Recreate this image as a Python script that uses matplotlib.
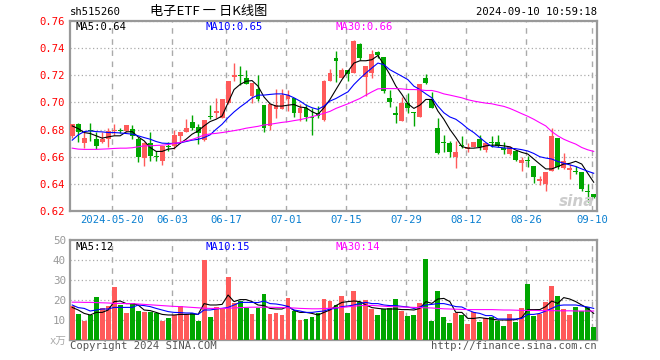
import matplotlib
matplotlib.use("Agg")
import matplotlib.pyplot as plt
import numpy as np

# daily candles, sh515260, 2024-05-09 .. 2024-09-10
opens = [0.675, 0.684, 0.670, 0.6795, 0.6727, 0.671, 0.6732, 0.679, 0.6795, 0.679, 0.6807,
         0.6727, 0.6588, 0.6698, 0.6602, 0.657, 0.6672, 0.668, 0.6749, 0.678, 0.6859, 0.682,
         0.6722, 0.6895, 0.6922, 0.6888, 0.6998, 0.7185, 0.7205, 0.7178, 0.7044, 0.7102, 0.6981,
         0.6829, 0.6951, 0.6951, 0.7022, 0.7034, 0.6924, 0.6956, 0.6895, 0.6924, 0.6873, 0.7156,
         0.7329, 0.7178, 0.7241, 0.7217, 0.7429, 0.7188, 0.7217, 0.7371, 0.7332, 0.7034, 0.6924,
         0.6863, 0.6998, 0.6926, 0.6893, 0.718, 0.7022, 0.6815, 0.6702, 0.6698, 0.6595, 0.6685,
         0.6654, 0.6668, 0.6727, 0.6649, 0.6707, 0.6705, 0.6663, 0.662, 0.6644, 0.6551, 0.6573,
         0.6534, 0.6424, 0.640, 0.6493, 0.6737, 0.6517, 0.6502, 0.6495, 0.6485, 0.6340, 0.6327]
highs = [0.684, 0.685, 0.678, 0.6845, 0.678, 0.678, 0.6815, 0.6844, 0.6815, 0.6837, 0.6834,
         0.6746, 0.6705, 0.678, 0.6644, 0.668, 0.6712, 0.6795, 0.6783, 0.6876, 0.6907, 0.6844,
         0.6868, 0.698, 0.7034, 0.7022, 0.7156, 0.729, 0.7266, 0.724, 0.7141, 0.7205, 0.6981,
         0.6985, 0.7102, 0.7102, 0.709, 0.7034, 0.6985, 0.6985, 0.6956, 0.6973, 0.7163, 0.7246,
         0.7378, 0.7256, 0.7241, 0.7461, 0.7437, 0.7266, 0.7388, 0.738, 0.7332, 0.7093, 0.6973,
         0.7039, 0.7071, 0.6926, 0.7137, 0.7208, 0.7078, 0.6888, 0.6759, 0.6717, 0.6717, 0.6754,
         0.6698, 0.6712, 0.6761, 0.6698, 0.6754, 0.6761, 0.6705, 0.668, 0.6644, 0.6595, 0.6607,
         0.6534, 0.6461, 0.6485, 0.681, 0.6737, 0.6624, 0.6546, 0.6534, 0.6485, 0.640, 0.6327]
lows = [0.674, 0.6705, 0.6665, 0.6715, 0.6656, 0.670, 0.6673, 0.676, 0.6775, 0.678, 0.673,
        0.6559, 0.653, 0.657, 0.6566, 0.654, 0.664, 0.666, 0.6712, 0.678, 0.680, 0.6693,
        0.6717, 0.688, 0.6888, 0.6888, 0.699, 0.7156, 0.7132, 0.7134, 0.6995, 0.701, 0.678,
        0.680, 0.6888, 0.6951, 0.6936, 0.6893, 0.6863, 0.6863, 0.6761, 0.6888, 0.686, 0.7156,
        0.7153, 0.7178, 0.7156, 0.7217, 0.7315, 0.7051, 0.7178, 0.7329, 0.7071, 0.6966, 0.6851,
        0.6863, 0.6924, 0.6827, 0.6893, 0.7134, 0.6956, 0.6619, 0.6632, 0.660, 0.6517, 0.6663,
        0.6632, 0.6668, 0.6649, 0.6632, 0.6668, 0.6668, 0.662, 0.6615, 0.6566, 0.6498, 0.6522,
        0.6405, 0.6395, 0.6346, 0.6493, 0.651, 0.651, 0.6437, 0.6473, 0.6351, 0.6266, 0.6298]
closes = [0.684, 0.678, 0.6735, 0.679, 0.6678, 0.6727, 0.679, 0.680, 0.6788, 0.6837, 0.6754,
          0.6595, 0.6703, 0.6607, 0.6598, 0.668, 0.6668, 0.6759, 0.6783, 0.6815, 0.6815, 0.6778,
          0.6868, 0.689, 0.6937, 0.7022, 0.7156, 0.720, 0.7195, 0.7134, 0.7141, 0.7022, 0.6815,
          0.6985, 0.6981, 0.7054, 0.7054, 0.6924, 0.696, 0.6893, 0.6888, 0.690, 0.7158, 0.7217,
          0.7305, 0.7237, 0.721, 0.7454, 0.7327, 0.7266, 0.7356, 0.7346, 0.7083, 0.7005, 0.6907,
          0.6998, 0.6956, 0.6922, 0.7137, 0.714, 0.6956, 0.6624, 0.6698, 0.6632, 0.6632, 0.6678,
          0.6668, 0.6712, 0.6668, 0.6698, 0.6702, 0.668, 0.6649, 0.6673, 0.6576, 0.6576, 0.6569,
          0.6454, 0.6437, 0.6485, 0.6754, 0.6522, 0.6571, 0.6517, 0.649, 0.6363, 0.6338, 0.630]

ma5 = [0.6827, 0.6807, 0.6778, 0.6771, 0.6754, 0.6737, 0.6746, 0.6754, 0.6754, 0.6783, 0.6785,
       0.6746, 0.6717, 0.6668, 0.6639, 0.6639, 0.6656, 0.6661, 0.6698, 0.6729, 0.6766, 0.679,
       0.6827, 0.6859, 0.6876, 0.690, 0.6998, 0.7095, 0.7132, 0.7156, 0.7161, 0.712, 0.704,
       0.699, 0.6973, 0.6973, 0.698, 0.6985, 0.6966, 0.6961, 0.6932, 0.6912, 0.6961, 0.7022,
       0.7095, 0.7168, 0.7229, 0.729, 0.7307, 0.7307, 0.7315, 0.7346, 0.7278, 0.7205, 0.712,
       0.7059, 0.699, 0.6956, 0.698, 0.7022, 0.7022, 0.6937, 0.6876, 0.6802, 0.6741, 0.6675,
       0.6663, 0.6663, 0.6668, 0.668, 0.6685, 0.6685, 0.668, 0.6673, 0.6649, 0.6632, 0.662,
       0.6583, 0.6546, 0.651, 0.651, 0.6527, 0.6546, 0.6551, 0.6566, 0.6546, 0.6478, 0.6412]
ma10 = [0.6722, 0.6761, 0.6785, 0.679, 0.6785, 0.6783, 0.6778, 0.6778, 0.6775, 0.6771, 0.6766,
        0.6754, 0.6741, 0.6729, 0.6712, 0.670, 0.6698, 0.6698, 0.6702, 0.6712, 0.6722, 0.6728,
        0.6741, 0.6761, 0.6802, 0.6839, 0.6888, 0.693, 0.6966, 0.6998, 0.7034, 0.7054, 0.7054,
        0.7059, 0.7063, 0.7063, 0.7054, 0.7034, 0.701, 0.698, 0.6961, 0.6949, 0.6973, 0.701,
        0.7029, 0.7054, 0.7078, 0.7132, 0.7176, 0.7217, 0.7254, 0.729, 0.7278, 0.7241, 0.7217,
        0.7193, 0.7168, 0.712, 0.7095, 0.7063, 0.7034, 0.6973, 0.6924, 0.6893, 0.6876, 0.6844,
        0.6807, 0.6778, 0.6741, 0.6705, 0.6675, 0.667, 0.6665, 0.6662, 0.6659, 0.6652, 0.6642,
        0.6624, 0.660, 0.659, 0.6583, 0.6565, 0.6552, 0.654, 0.6528, 0.651, 0.6493, 0.6478]
ma30 = [0.6663, 0.6656, 0.6654, 0.6654, 0.6654, 0.6656, 0.6658, 0.6661, 0.6663, 0.6663, 0.6666,
        0.6673, 0.668, 0.668, 0.6683, 0.6685, 0.669, 0.6698, 0.6705, 0.6717, 0.6727, 0.6742,
        0.6760, 0.6768, 0.6772, 0.6778, 0.6785, 0.6792, 0.680, 0.681, 0.6817, 0.6824, 0.6834,
        0.6839, 0.6846, 0.6853, 0.6858, 0.6866, 0.6873, 0.6883, 0.6895, 0.6907, 0.692, 0.6934,
        0.6956, 0.6973, 0.699, 0.701, 0.7029, 0.7054, 0.7078, 0.710, 0.7102, 0.7102, 0.7102,
        0.710, 0.7095, 0.7095, 0.7093, 0.7088, 0.7088, 0.7078, 0.7063, 0.7054, 0.7044, 0.7034,
        0.702, 0.701, 0.7002, 0.6995, 0.699, 0.698, 0.6971, 0.6956, 0.6937, 0.6917, 0.6898,
        0.6876, 0.6851, 0.6827, 0.6785, 0.6754, 0.6729, 0.671, 0.6693, 0.6668, 0.6651, 0.6639]

# volume, 万手
volumes = [17.2, 12.8, 9.5, 12.5, 21.5, 15.8, 17.2, 26.5, 17.5, 13.5, 18.3, 14.5, 13.8, 13.8,
           13.5, 9.7, 10.8, 12.5, 17, 12.8, 13.3, 9.5, 40, 11.5, 16.5, 15.5, 31.5, 18.7, 19.5,
           16.2, 13, 16.2, 23, 13, 13.5, 12.5, 21, 14.7, 10, 10.3, 11.5, 13.7, 20.5, 19.5,
           17.5, 22.2, 13.7, 24.7, 18.8, 20, 15.5, 12.5, 15.5, 15.8, 20.5, 14.7, 12.2, 12.5,
           18.5, 40.5, 9.7, 24.5, 11.7, 8.7, 13.5, 12.5, 8.2, 14, 9.2, 10.8, 11.5, 9.5, 7.2,
           13.2, 9, 16.2, 28, 12.2, 12.8, 19, 27, 22.2, 15.3, 12.5, 16.7, 14.3, 16.3, 6.5]
vol_ma5 = [16.3, 15, 13.3, 12.5, 13.8, 13.8, 15, 19.2, 19.5, 18.2, 18.2, 17.5, 15, 14.7, 13.8,
           12.8, 12.5, 12.5, 12.8, 12.8, 13, 12.8, 18.2, 17.5, 17.5, 17.8, 22.5, 19.2, 20.2,
           20.2, 19.2, 17.5, 17.2, 15.8, 15.5, 15.5, 16.8, 14.8, 13.8, 13.8, 13.3, 12.5, 13.8,
           15, 17.2, 18.8, 19.2, 19.5, 19.2, 17.5, 16.2, 15.8, 15.5, 15.5, 15.5, 15.2, 15.2,
           15, 15.8, 19.2, 18.3, 20.5, 20.8, 19.2, 13.8, 13.8, 10.8, 10.8, 11.2, 10.8, 10.5,
           10, 10, 10, 10.2, 11.2, 15.2, 15.2, 15.2, 16.7, 19.5, 18.3, 21.2, 20.5, 19.2, 17.5,
           15.8, 13.3]
vol_ma10 = [17.5, 16.2, 15.8, 14.5, 15, 15.5, 15.5, 16.3, 16.3, 16.3, 16.3, 17.5, 17.2, 16.7,
            15.8, 15, 14.2, 13.8, 13.7, 13.5, 13.5, 12.8, 15, 15, 15.5, 15.8, 16.3, 17.5, 18.8,
            18.8, 18.8, 18.7, 19.5, 18.2, 18, 17.5, 16.8, 15, 14.5, 13.8, 13.8, 14.2, 14.5,
            15.5, 15.8, 16.7, 17, 17.5, 18.3, 18.8, 18.2, 18.2, 17.5, 17.2, 17.2, 16.8, 16.5,
            15.8, 16.5, 17.5, 17.8, 18.2, 18.2, 17.5, 16.7, 16.5, 15, 13.8, 13.3, 12.2, 12.2,
            10.5, 10.5, 10.5, 10.5, 10.8, 12.8, 12.8, 13.3, 14.5, 15.8, 17.2, 17.5, 17.5, 17.5,
            17, 16.5, 15.8]
vol_ma30 = [18.9, 18.9, 18.8, 18.8, 18.7, 18.6, 18.5, 18.3, 18.3, 18.2, 18.2, 18.0, 17.8, 17.6,
            17.4, 17.2, 17.0, 16.8, 16.7, 16.5, 16.3, 16.1, 15.9, 15.8, 15.8, 15.8, 15.9, 16.0,
            16.2, 16.3, 16.4, 16.4, 16.4, 16.4, 16.3, 16.2, 16.1, 16.0, 15.8, 15.7, 15.6, 15.6,
            15.7, 15.9, 16.1, 16.3, 16.6, 16.9, 17.2, 17.3, 17.3, 17.1, 16.9, 16.7, 16.6, 16.5,
            16.4, 16.3, 16.2, 16.1, 16.0, 15.8, 15.6, 15.5, 15.4, 15.3, 15.2, 15.2, 15.2, 15.2,
            15.2, 15.1, 15.0, 15.0, 14.9, 14.8, 14.8, 14.8, 14.7, 14.7, 14.7, 14.6, 14.6, 14.6,
            14.5, 14.5, 14.5, 14.5]

# date labels and the candle index they sit on
date_labels = ["2024-05-20", "06-03", "06-17", "07-01", "07-15", "07-29", "08-12", "08-26", "09-10"]
date_index = [7, 17, 26, 36, 46, 56, 66, 76, 87]

price_ticks = [0.62, 0.64, 0.66, 0.68, 0.70, 0.72, 0.74, 0.76]
vol_ticks = [10, 20, 30, 40, 50]

W, H = 660, 360
RED = "#ff5a5a"
GREEN = "#00a600"
GRID = "#aaaaaa"
MONO = ["DejaVu Sans Mono", "Noto Sans CJK SC"]
CJK = ["Noto Sans CJK SC", "DejaVu Sans"]

plt.rcParams["font.family"] = MONO


def px(x, y):
    return x / W, 1 - y / H


def style_axes(ax):
    for s in ax.spines.values():
        s.set_color("#999999")
        s.set_linewidth(1.6)
    ax.tick_params(length=0)
    ax.set_xlim(-0.37, 87.55)
    ax.set_xticks([i - 0.3 for i in date_index])
    ax.grid(axis="x", color=GRID, linestyle=(0, (4, 4)), linewidth=1)
    ax.grid(axis="y", color=GRID, linestyle=(0, (1, 2)), linewidth=0.9)
    ax.set_axisbelow(True)


fig = plt.figure(figsize=(W / 100, H / 100), dpi=100)
ax1 = fig.add_axes([70 / W, 1 - 211 / H, 527 / W, 190 / H])
ax2 = fig.add_axes([70 / W, 1 - 340 / H, 527 / W, 100 / H])

x = np.arange(len(closes))
o = np.array(opens)
c = np.array(closes)
colors = [RED if cc >= oo else GREEN for oo, cc in zip(opens, closes)]

# candles
ax1.vlines(x, lows, highs, colors=colors, linewidth=1, zorder=2)
body = np.maximum(np.abs(c - o), 0.0008)
ax1.bar(x, body, bottom=np.minimum(o, c), width=0.82, color=colors, zorder=3)
ax1.plot(x, ma5, color="black", linewidth=0.8, zorder=4)
ax1.plot(x, ma10, color="#0000ff", linewidth=0.8, zorder=4)
ax1.plot(x, ma30, color="#ff00ff", linewidth=0.8, zorder=4)

style_axes(ax1)
ax1.set_ylim(0.62, 0.76)
ax1.set_yticks(price_ticks)
ax1.set_yticklabels([f"{t:.2f}" for t in price_ticks], color="#ff0000", fontsize=7.6)
ax1.set_xticklabels(date_labels, color="#0a7fd0", fontsize=7.6)
ax1.tick_params(axis="x", pad=3)
ax1.tick_params(axis="y", pad=4)

# volume
ax2.bar(x, volumes, width=0.82, color=colors, zorder=3)
ax2.plot(x, vol_ma5, color="black", linewidth=0.8, zorder=4)
ax2.plot(x, vol_ma10, color="#0000ff", linewidth=0.8, zorder=4)
ax2.plot(x, vol_ma30, color="#ff00ff", linewidth=0.8, zorder=4)

style_axes(ax2)
ax2.set_ylim(0, 50)
ax2.set_yticks(vol_ticks)
ax2.set_yticklabels([str(t) for t in vol_ticks], color="#999999", fontsize=7.8)
ax2.set_xticklabels([])
ax2.tick_params(axis="y", pad=3)

# header
fig.text(*px(70, 12), "sh515260", ha="left", va="center", fontsize=7.6)
fig.text(*px(209, 11), "电子ETF 一 日K线图", ha="center", va="center", fontsize=9.5, family=CJK)
fig.text(*px(597, 12), "2024-09-10 10:59:18", ha="right", va="center", fontsize=7.6)

# moving average legends
fig.text(*px(75, 27), "MA5:0.64", ha="left", va="center", fontsize=7.6, color="black")
fig.text(*px(205, 27), "MA10:0.65", ha="left", va="center", fontsize=7.6, color="#0000ff")
fig.text(*px(335, 27), "MA30:0.66", ha="left", va="center", fontsize=7.6, color="#ff00ff")
fig.text(*px(75, 247), "MA5:12", ha="left", va="center", fontsize=7.6, color="black")
fig.text(*px(205, 247), "MA10:15", ha="left", va="center", fontsize=7.6, color="#0000ff")
fig.text(*px(335, 247), "MA30:14", ha="left", va="center", fontsize=7.6, color="#ff00ff")

# footer
fig.text(*px(66, 341), "x万", ha="right", va="center", fontsize=7.6, color="#aaaaaa")
fig.text(*px(70, 346), "Copyright 2024 SINA.COM", ha="left", va="center", fontsize=7.6, color="#555555")
fig.text(*px(597, 346), "http://finance.sina.com.cn", ha="right", va="center", fontsize=7.6, color="#555555")
fig.text(*px(577, 202), "sina", ha="center", va="center", fontsize=11, color="#cccccc",
         style="italic", weight="bold", family="DejaVu Sans")

fig.savefig("out.png", dpi=100)
